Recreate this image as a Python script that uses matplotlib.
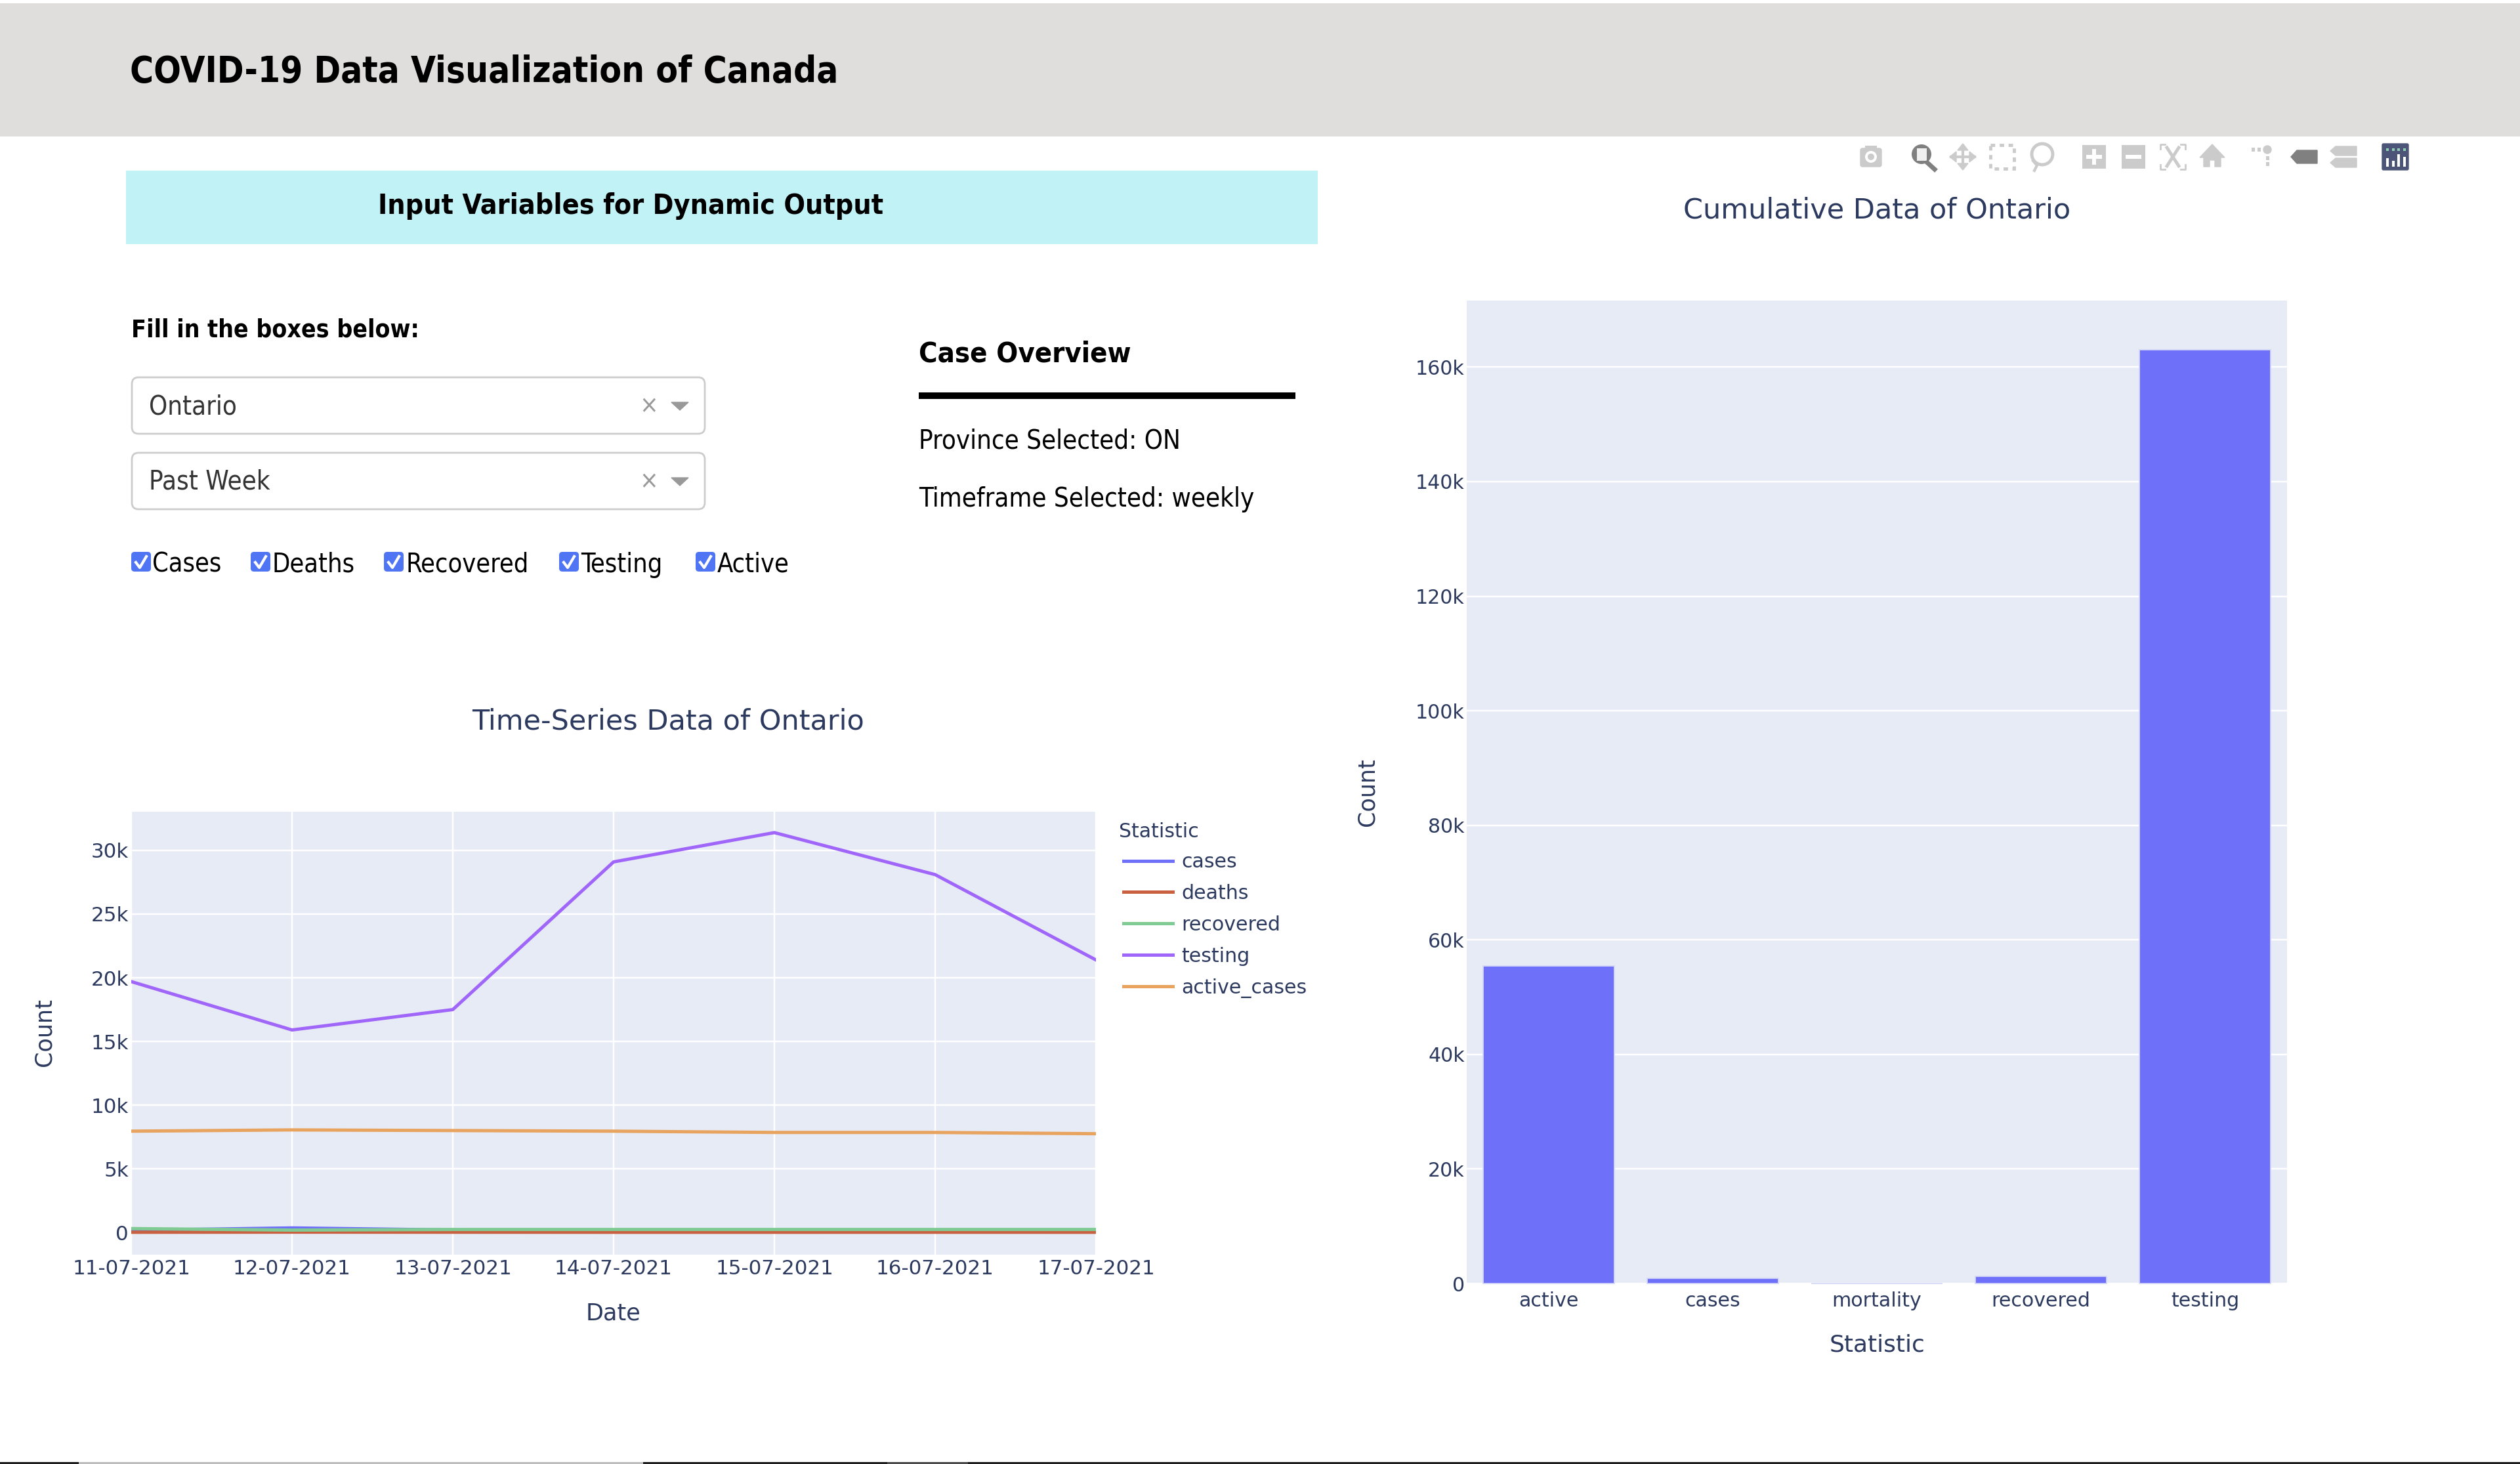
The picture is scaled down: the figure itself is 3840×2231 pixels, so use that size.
# recreate the dash page: page furniture is drawn in pixel coords, charts on real axes
import matplotlib
matplotlib.use('Agg')
import matplotlib.pyplot as plt
from matplotlib.patches import Rectangle, FancyBboxPatch, Circle, Polygon

W, H = 3840, 2231

# time series data
dates = ['11-07-2021', '12-07-2021', '13-07-2021', '14-07-2021',
         '15-07-2021', '16-07-2021', '17-07-2021']
cases = [170, 350, 190, 140, 150, 140, 140]
deaths = [10, 20, 15, 10, 10, 12, 10]
recovered = [300, 180, 230, 230, 230, 230, 230]
testing = [19700, 15900, 17500, 29100, 31400, 28100, 21400]
active_cases = [7950, 8050, 8000, 7950, 7850, 7850, 7750]
line_names = ['cases', 'deaths', 'recovered', 'testing', 'active_cases']
line_colors = ['#6E70F9', '#C9603F', '#7FCB93', '#A066FA', '#E8A35F']

# cumulative data
stat_names = ['active', 'cases', 'mortality', 'recovered', 'testing']
stat_values = [55400, 915, 2, 1260, 163000]

# colours
ink = '#2D3A5F'
plot_bg = '#E7EBF6'
icon_light = '#CBCBCB'
icon_dark = '#808080'

plt.rcParams['font.family'] = ['DejaVu Sans']

fig = plt.figure(figsize=(W / 100, H / 100), dpi=100, facecolor='white')
page = fig.add_axes([0, 0, 1, 1])
page.set_xlim(0, W)
page.set_ylim(H, 0)
page.set_axis_off()


def pt(px):
    return px * 0.72


def px_axes(left, top, right, bottom):
    return fig.add_axes([left / W, 1 - bottom / H, (right - left) / W, (bottom - top) / H])


def rect(x0, y0, x1, y1, color, **kw):
    page.add_patch(Rectangle((x0, y0), x1 - x0, y1 - y0, facecolor=color, edgecolor='none', **kw))


def label(x, y, s, px, color='black', weight='normal', ha='left'):
    page.text(x, y, s, fontsize=pt(px), color=color, fontweight=weight, ha=ha, va='center',
              family='DejaVu Sans', stretch='condensed')


# header and banner
rect(0, 5, W, 208, '#DFDEDC')
label(198, 110, 'COVID-19 Data Visualization of Canada', 54.6, weight='bold')
rect(192, 260, 2008, 372, '#C1F2F6')
label(576, 314, 'Input Variables for Dynamic Output', 42.8, weight='bold')

# controls
label(200, 503, 'Fill in the boxes below:', 37.3, weight='bold')
for top, text in [(573, 'Ontario'), (688, 'Past Week')]:
    page.add_patch(FancyBboxPatch((201, top + 2), 873, 86, boxstyle='round,pad=0,rounding_size=10',
                                  facecolor='white', edgecolor='#CCCCCC', linewidth=2))
    label(227, top + 47, text, 40, color='#333333')
    label(989, top + 46, '×', 38, color='#999999', ha='center')
    page.add_patch(Polygon([(1023, top + 40), (1049, top + 40), (1036, top + 52)], color='#999999'))

for box_x, text_x, text in [(200, 232, 'Cases'), (382, 415, 'Deaths'), (585, 618, 'Recovered'),
                            (852, 885, 'Testing'), (1060, 1093, 'Active')]:
    page.add_patch(FancyBboxPatch((box_x + 3, 844), 24, 24, boxstyle='round,pad=3,rounding_size=5',
                                  facecolor='#4F75F5', edgecolor='none'))
    page.plot([box_x + 7, box_x + 13, box_x + 23], [857, 865, 848], color='white', lw=3)
    label(text_x, 861, text, 39.5)

# case overview
label(1400, 539, 'Case Overview', 43.4, weight='bold')
rect(1400, 598, 1974, 608, 'black')
label(1400, 673, 'Province Selected: ON', 40)
label(1400, 761, 'Timeframe Selected: weekly', 40)


# modebar icons, rough shapes only
def box_icon(x, color=icon_light):
    rect(x - 18, 221, x + 18, 257, color)


page.add_patch(FancyBboxPatch((2835, 226), 32, 28, boxstyle='round,pad=0,rounding_size=3', color=icon_light))
rect(2842, 222, 2860, 228, icon_light)
page.add_patch(Circle((2851, 239), 9, facecolor='white', edgecolor='none'))
page.add_patch(Circle((2851, 239), 5, facecolor=icon_light, edgecolor='none'))

page.add_patch(Circle((2928, 235), 15, facecolor=icon_dark, edgecolor='none'))
rect(2921, 226, 2936, 245, '#F0F0F0')
page.plot([2937, 2948], [248, 258], color=icon_dark, lw=5)

page.plot([2991, 2991], [222, 256], color=icon_light, lw=3)
page.plot([2973, 3009], [239, 239], color=icon_light, lw=3)
for a, b, c in [((2983, 229), (2999, 229), (2991, 219)), ((2983, 249), (2999, 249), (2991, 259)),
                ((2981, 231), (2981, 247), (2971, 239)), ((3001, 231), (3001, 247), (3011, 239))]:
    page.add_patch(Polygon([a, b, c], color=icon_light))

page.add_patch(Rectangle((3033, 221), 36, 36, fill=False, edgecolor=icon_light, lw=3.5, linestyle=(0, (1.4, 1.4))))

page.add_patch(Circle((3112, 235), 16, fill=False, edgecolor=icon_light, lw=3.5))
page.plot([3098, 3104, 3100], [245, 252, 260], color=icon_light, lw=3)

box_icon(3191)
rect(3179, 236, 3203, 242, 'white')
rect(3188, 227, 3194, 251, 'white')
box_icon(3251)
rect(3239, 236, 3263, 242, 'white')

for sx, sy in [(-1, -1), (1, -1), (-1, 1), (1, 1)]:
    page.plot([3311 + sx * 12, 3311 + sx * 19, 3311 + sx * 19], [239 + sy * 19, 239 + sy * 19, 239 + sy * 12],
              color=icon_light, lw=2)
    page.plot([3311, 3311 + sx * 9], [239, 239 + sy * 14], color=icon_light, lw=3.5)

page.add_patch(Polygon([(3371, 220), (3390, 240), (3384, 240), (3384, 254), (3375, 254), (3375, 244), (3367, 244),
                        (3367, 254), (3358, 254), (3358, 240), (3352, 240)], color=icon_light))

page.add_patch(Circle((3455, 228), 6, color=icon_light))
rect(3431, 225, 3436, 231, icon_light)
rect(3440, 225, 3445, 231, icon_light)
rect(3453, 238, 3458, 244, icon_light)
rect(3453, 247, 3458, 253, icon_light)

page.add_patch(Polygon([(3491, 239), (3500, 229), (3531, 229), (3531, 249), (3500, 249)], color=icon_dark))
for top in [223, 241]:
    page.add_patch(Polygon([(3551, top + 7), (3559, top), (3591, top), (3591, top + 14), (3559, top + 14)],
                           color=icon_light))

page.add_patch(FancyBboxPatch((3630, 219), 40, 40, boxstyle='round,pad=0,rounding_size=2', color='#4C5578'))
for k, bar_h in enumerate([12, 8, 18, 14]):
    rect(3636 + k * 8.5, 254 - bar_h - 1, 3640 + k * 8.5, 254, 'white')
    rect(3636 + k * 8.5, 226, 3640 + k * 8.5, 230, '#8FD0B5')

# bottom strip
rect(0, 2228, W, H, '#1C1C1C')
rect(120, 2228, 980, H, '#BDBDBD')
rect(1352, 2228, 1475, H, '#4A4A4A')

# line chart
ax = px_axes(200, 1237, 1670, 1912)
ax.set_facecolor(plot_bg)
for name, values, color in zip(line_names, [cases, deaths, recovered, testing, active_cases], line_colors):
    ax.plot(dates, values, color=color, lw=pt(5), label=name, solid_joinstyle='round')
ax.set_xlim(0, 6)
ax.set_ylim(-1750, 33040)
y_ticks = [0, 5000, 10000, 15000, 20000, 25000, 30000]
ax.set_yticks(y_ticks, ['0', '5k', '10k', '15k', '20k', '25k', '30k'])
ax.grid(color='white', lw=pt(2.5))
ax.set_axisbelow(True)
ax.tick_params(length=0, labelsize=pt(31), labelcolor=ink, pad=pt(4))
ax.tick_params(axis='x', pad=pt(7))
for spine in ax.spines.values():
    spine.set_visible(False)
ax.set_title('Time-Series Data of Ontario', fontsize=pt(43), color=ink, x=(1018 - 200) / 1470, y=(1912 - 1097 - 23) / 675)
ax.set_xlabel('Date', fontsize=pt(35), color=ink)
ax.xaxis.set_label_coords((935 - 200) / 1470, (1912 - 2002) / 675)
ax.xaxis.label.set_va('center')
ax.set_ylabel('Count', fontsize=pt(35), color=ink)
ax.yaxis.set_label_coords((68 - 200) / 1470, (1912 - 1573) / 675)
ax.yaxis.label.set_va('center')
page.text(1705, 1267, 'Statistic', fontsize=pt(30), color=ink, va='center')
ax.legend(loc='upper left', bbox_to_anchor=(1712 / W, 1 - 1299 / H),
          bbox_transform=fig.transFigure, frameon=False, fontsize=pt(30),
          borderpad=0, borderaxespad=0, handlelength=2.5, handletextpad=0.43,
          labelspacing=0.63, labelcolor=ink)

# bar chart, bars sit a couple of pixels below the plot area in the reference
ax2 = px_axes(2235, 458, 3485, 1956)
ax2.set_facecolor(plot_bg)
ax2.bar(stat_names, stat_values, width=0.8, color='#6E70F9', edgecolor='#D5D9F7', linewidth=pt(1.8), clip_on=False, zorder=3)
ax2.set_xlim(-0.5, 4.5)
ax2.set_ylim(343, 171620)
ax2.set_yticks([0, 20000, 40000, 60000, 80000, 100000, 120000, 140000, 160000],
               ['0', '20k', '40k', '60k', '80k', '100k', '120k', '140k', '160k'])
ax2.grid(axis='y', color='white', lw=pt(2.5))
ax2.set_axisbelow(True)
ax2.tick_params(length=0, labelsize=pt(30), labelcolor=ink, pad=pt(3))
ax2.tick_params(axis='x', pad=pt(12))
for spine in ax2.spines.values():
    spine.set_visible(False)
ax2.set_title('Cumulative Data of Ontario', fontsize=pt(43), color=ink, y=(1956 - 318 - 23) / 1498)
ax2.set_xlabel('Statistic', fontsize=pt(36), color=ink)
ax2.xaxis.set_label_coords(0.5, (1956 - 2049) / 1498)
ax2.xaxis.label.set_va('center')
ax2.set_ylabel('Count', fontsize=pt(35), color=ink)
ax2.yaxis.set_label_coords((2084 - 2235) / 1250, (1956 - 1207) / 1498)
ax2.yaxis.label.set_va('center')

fig.savefig('out.png', dpi=100)
